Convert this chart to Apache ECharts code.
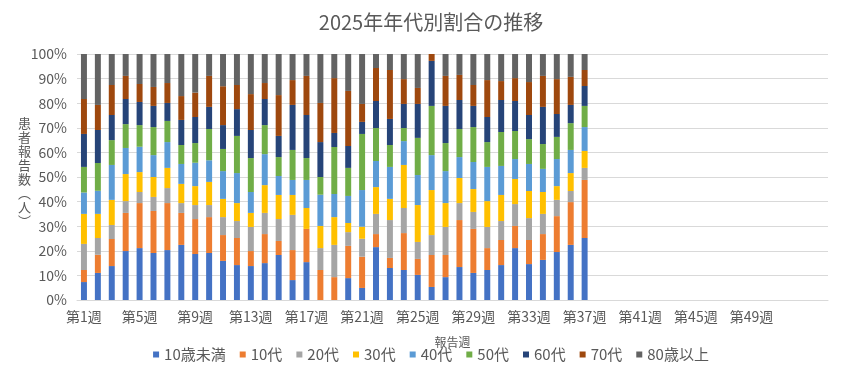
<!DOCTYPE html>
<html>
<head>
<meta charset="utf-8">
<script src="https://cdn.jsdelivr.net/npm/echarts@6/dist/echarts.min.js"></script>
<style>
html,body{margin:0;padding:0;background:#fff;}
#chart{width:862px;height:379px;}
</style>
</head>
<body>
<div id="chart"></div>
<script>
// Categories: 54 slots on the axis (data for weeks 1-37)
const weeks = [];
for (let i = 1; i <= 54; i++) weeks.push('第' + i + '週');

const seriesNames = ['10歳未満','10代','20代','30代','40代','50代','60代','70代','80歳以上'];
const seriesColors = ['#4472C4','#ED7D31','#A5A5A5','#FFC000','#5B9BD5','#70AD47','#264478','#9E480E','#636363'];

// Shares (%), weeks 1-37
const age0_9   = [7.3,11.0,13.8,19.9,21.1,19.1,20.3,22.4,18.7,19.1,15.9,14.2,13.8,15.0,18.3,8.1,15.4,0,0,8.9,4.9,21.5,13.0,12.2,10.2,5.3,9.3,13.4,11.0,12.2,14.2,21.1,14.6,16.3,19.5,22.4,25.2];
const age10s   = [4.9,7.4,11.0,15.5,18.3,17.1,19.1,13.0,14.2,14.6,10.5,11.0,6.1,11.8,5.7,12.2,13.5,12.2,9.3,13.1,12.7,5.3,4.1,15.0,6.5,13.0,9.0,19.1,17.9,8.9,10.2,9.0,9.8,10.5,14.6,17.4,23.6];
const age20s   = [10.6,6.8,5.7,4.8,4.5,5.7,6.1,4.0,5.7,4.9,7.3,6.9,9.8,8.6,8.9,14.3,0,8.9,13.1,5.6,7.3,8.2,15.4,10.2,6.9,8.1,11.4,6.9,6.9,8.6,7.7,8.9,8.9,8.2,6.6,4.5,4.9];
const age30s   = [12.2,9.8,10.2,11.0,8.1,8.1,8.2,7.8,7.7,9.4,7.4,7.3,5.7,11.3,9.8,8.1,8.5,9.0,11.3,3.7,4.9,10.9,8.6,17.5,15.0,18.3,9.7,10.2,9.3,10.5,10.6,10.2,11.0,8.9,5.6,7.3,6.9];
const age40s   = [8.7,9.4,14.2,10.6,10.3,8.9,10.5,8.1,9.5,8.8,11.3,12.2,8.5,12.6,7.7,6.1,11.4,12.7,9.4,11.0,14.9,10.6,13.0,9.7,12.2,14.2,13.0,8.5,11.0,13.9,11.8,8.1,11.0,9.4,11.0,9.4,9.7];
const age50s   = [10.4,11.3,10.1,9.7,8.8,11.4,8.6,7.7,8.0,12.7,9.0,15.1,13.8,11.8,7.7,12.2,8.9,7.2,19.1,11.4,22.8,13.4,8.9,5.3,15.1,20.0,11.4,11.4,14.2,10.1,13.8,11.4,10.1,10.1,9.0,10.9,8.6];
const age60s   = [13.4,13.4,10.2,10.2,9.4,8.6,7.3,10.2,10.6,9.0,9.7,10.9,11.4,10.6,8.6,18.3,17.5,14.2,5.7,8.9,4.9,11.0,10.6,9.8,13.8,18.3,15.1,11.8,8.6,10.2,13.0,12.2,9.8,15.1,9.3,7.4,8.1];
const age70s   = [14.2,10.2,12.2,9.4,7.3,7.7,8.1,9.7,9.9,12.6,15.8,9.8,14.6,6.5,16.6,10.1,15.9,15.9,22.3,22.4,7.3,13.4,19.9,10.1,6.5,2.8,12.2,10.2,8.5,15.0,7.7,9.3,13.4,12.6,14.2,11.4,6.5];
const age80up  = [18.3,20.7,12.6,8.9,12.2,13.4,11.8,17.1,15.7,8.9,13.1,12.6,16.3,11.8,16.7,10.6,8.9,19.9,9.8,15.0,20.3,5.7,6.5,10.2,13.8,0,8.9,8.5,12.6,10.6,11.0,9.8,11.4,8.9,10.2,9.3,6.5];

const yTicks = [0,10,20,30,40,50,60,70,80,90,100];

const raw = [age0_9, age10s, age20s, age30s, age40s, age50s, age60s, age70s, age80up];
const n = age0_9.length;
const totals = [];
for (let i = 0; i < n; i++) {
  let s = 0;
  raw.forEach(a => s += a[i]);
  totals.push(s);
}
const FONT = "'Noto Sans CJK JP','Noto Sans',sans-serif";
const TXT = '#595959';

const series = raw.map((arr, k) => ({
  name: seriesNames[k],
  type: 'bar',
  stack: 'total',
  barWidth: '43%',
  itemStyle: { color: seriesColors[k] },
  data: arr.map((v, i) => +(v / totals[i] * 100).toFixed(3)),
  animation: false
}));

const chart = echarts.init(document.getElementById('chart'));
chart.setOption({
  animation: false,
  title: {
    text: '2025年年代別割合の推移',
    left: 'center',
    top: 7,
    textStyle: { fontFamily: FONT, fontSize: 20, fontWeight: 'normal', color: TXT }
  },
  grid: { left: 77, right: 34, top: 54, bottom: 79 },
  legend: {
    data: seriesNames,
    bottom: 12,
    left: 'center',
    icon: 'rect',
    itemWidth: 6,
    itemHeight: 6,
    itemGap: 14,
    textStyle: { fontFamily: FONT, fontSize: 15, color: TXT }
  },
  xAxis: {
    type: 'category',
    data: weeks,
    name: '報告週',
    nameLocation: 'middle',
    nameGap: 36,
    nameTextStyle: { fontFamily: FONT, fontSize: 12, color: TXT },
    axisLine: { lineStyle: { color: '#D9D9D9' } },
    axisTick: { show: false },
    axisLabel: {
      interval: function (idx) { return idx % 4 === 0 && idx <= 48; },
      margin: 10,
      fontFamily: FONT, fontSize: 14, color: TXT
    }
  },
  yAxis: {
    type: 'value',
    min: yTicks[0],
    max: yTicks[yTicks.length - 1],
    interval: 10,
    axisLine: { show: false },
    axisTick: { show: false },
    splitLine: { lineStyle: { color: '#D9D9D9' } },
    axisLabel: {
      formatter: '{value}%',
      margin: 10,
      fontFamily: "'Liberation Sans Narrow','Noto Sans CJK JP',sans-serif",
      fontSize: 14, color: TXT
    }
  },
  graphic: [{
    type: 'text',
    left: 18,
    top: 116,
    style: {
      text: '患\n者\n報\n告\n数\n︵\n人\n︶',
      font: "13px 'Noto Sans CJK JP'",
      fill: TXT,
      lineHeight: 14,
      textAlign: 'left'
    }
  }],
  series: series
});
</script>
</body>
</html>
